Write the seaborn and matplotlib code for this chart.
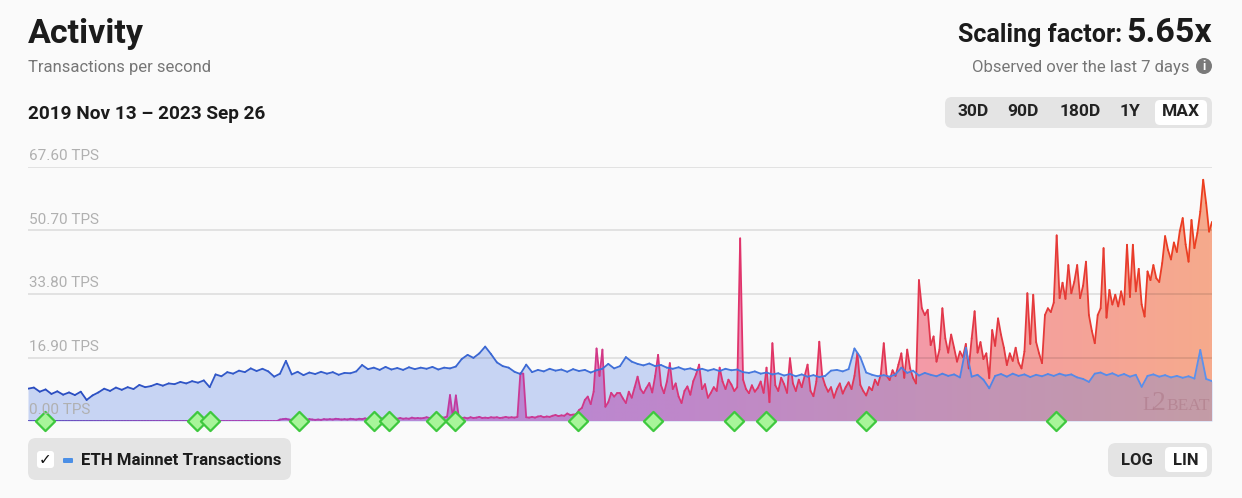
import matplotlib
matplotlib.use("Agg")
import matplotlib.pyplot as plt
import matplotlib.dates as mdates
import matplotlib.transforms as mtransforms
from matplotlib.collections import LineCollection
from matplotlib.colors import LinearSegmentedColormap
from matplotlib.patches import FancyBboxPatch, Circle
import numpy as np
import pandas as pd
import seaborn as sns

# data
start_date = "2019-11-13"
end_date = "2023-09-26"

# ETH mainnet, one value about every 7 days
eth_tps = [
    8.6, 8.9, 7.8, 8.4, 7.2, 7.9, 7.0, 7.6, 6.9, 7.8,
    5.6, 6.8, 7.6, 8.6, 8.0, 8.9, 8.3, 9.0, 8.5, 9.6,
    9.0, 9.3, 9.9, 9.4, 10.0, 9.8, 10.4, 10.0, 10.6, 10.2,
    10.8, 9.0, 12.4, 11.9, 13.0, 12.6, 13.4, 13.0, 14.0, 13.3,
    13.9, 13.2, 11.8, 12.6, 16.0, 12.4, 13.1, 12.2, 12.9, 12.5,
    13.1, 12.6, 13.0, 12.3, 12.8, 12.7, 13.2, 14.9, 13.8, 14.2,
    13.6, 14.4, 13.7, 14.1, 13.6, 14.3, 13.8, 14.2, 13.9, 14.4,
    13.7, 14.2, 14.0, 14.5, 16.5, 17.6, 16.8, 18.0, 19.8, 17.8,
    15.6, 14.6, 14.2, 13.1, 12.5, 15.0, 13.0, 13.6, 13.2, 13.9,
    13.4, 13.7, 13.1, 13.8, 13.3, 13.6, 12.9, 13.5, 13.9, 15.2,
    14.0, 14.6, 17.0, 15.8, 15.2, 14.8, 15.3, 14.6, 14.9, 14.2,
    13.9, 14.3, 13.7, 14.0, 13.5, 13.9, 13.4, 13.8, 13.3, 13.9,
    13.5, 13.7, 13.0, 12.8, 13.2, 12.6, 12.9, 12.4, 12.7, 12.1,
    12.5, 11.9, 12.4, 11.8, 12.2, 11.7, 12.0, 13.4, 13.6, 13.2,
    13.8, 19.3, 17.0, 12.9, 12.3, 11.9, 12.2, 11.8, 12.4, 14.2,
    12.8, 13.4, 12.1, 12.8, 12.3, 11.9, 12.6, 12.0, 12.4, 11.6,
    19.5, 11.8, 12.3, 11.0, 8.7, 12.0, 12.5, 11.8, 12.6, 12.0,
    12.4, 11.7, 12.3, 11.9, 12.5, 12.0, 12.6, 12.1, 12.4, 11.6,
    11.2, 10.4, 12.6, 12.9, 12.2, 12.7, 12.0, 12.5, 11.8, 12.3,
    9.1, 12.0, 12.4, 11.8, 12.2, 11.6, 12.0, 11.5, 11.9, 11.3,
    18.9, 11.2, 10.6,
]

# rollups (L2s), one value about every 3.5 days
l2_tps = [
    0.0, 0.0, 0.0, 0.0, 0.0, 0.0, 0.0, 0.0, 0.0, 0.0,
    0.0, 0.0, 0.0, 0.0, 0.0, 0.0, 0.0, 0.0, 0.0, 0.0,
    0.0, 0.0, 0.0, 0.0, 0.0, 0.0, 0.0, 0.0, 0.0, 0.0,
    0.0, 0.0, 0.0, 0.0, 0.0, 0.0, 0.0, 0.0, 0.0, 0.0,
    0.0, 0.0, 0.0, 0.0, 0.0, 0.0, 0.0, 0.0, 0.0, 0.0,
    0.0, 0.0, 0.0, 0.0, 0.0, 0.0, 0.0, 0.0, 0.0, 0.0,
    0.0, 0.0, 0.0, 0.0, 0.0, 0.0, 0.0, 0.0, 0.0, 0.0,
    0.0, 0.0, 0.0, 0.0, 0.0, 0.0, 0.0, 0.0, 0.0, 0.0,
    0.0, 0.0, 0.0, 0.0, 0.0, 0.0, 0.4, 0.5, 0.6, 0.4,
    0.3, 0.4, 0.5, 0.3, 0.4, 0.3, 0.5, 0.4, 0.3, 0.4,
    0.3, 0.5, 0.4, 0.5, 0.4, 0.6, 0.5, 0.4, 0.5, 0.4,
    0.6, 0.5, 0.4, 0.6, 0.5, 0.7, 0.5, 0.6, 0.5, 0.6,
    0.8, 0.6, 0.5, 0.7, 0.6, 0.7, 0.6, 0.8, 0.6, 0.7,
    0.6, 0.9, 0.7, 0.8, 0.7, 0.8, 1.0, 0.8, 0.7, 0.9,
    0.8, 1.0, 0.9, 1.2, 6.9, 0.9, 6.8, 1.0, 0.8, 0.9,
    0.7, 1.0, 0.8, 0.9, 1.1, 0.8, 0.9, 0.8, 1.0, 0.9,
    1.0, 0.8, 0.9, 1.1, 0.9, 1.0, 0.9, 1.1, 12.7, 12.6,
    1.0, 0.9, 1.1, 0.9, 1.2, 1.3, 1.0, 1.2, 1.1, 1.4,
    1.6, 1.3, 1.5, 1.4, 2.0, 1.6, 1.7, 1.8, 2.9, 3.5,
    5.6, 6.5, 4.5, 7.8, 19.3, 12.0, 19.0, 3.8, 5.0, 7.5,
    6.5, 7.4, 7.4, 6.0, 4.8, 7.8, 6.2, 9.0, 11.8, 8.5,
    7.4, 8.8, 10.1, 7.6, 12.0, 17.6, 9.5, 7.4, 10.5, 15.4,
    8.5, 10.0, 6.5, 4.8, 8.0, 9.2, 7.0, 10.6, 12.5, 15.0,
    8.5, 9.8, 6.2, 7.5, 9.0, 8.0, 14.2, 10.5, 8.5, 11.0,
    9.7, 8.0, 9.0, 48.6, 11.0, 8.5, 7.4, 9.5, 7.8, 8.8,
    10.5, 7.5, 14.2, 5.0, 20.7, 9.5, 8.0, 11.5, 9.8, 7.5,
    16.7, 10.0, 8.0, 11.0, 9.0, 12.0, 15.0, 8.0, 6.6, 10.5,
    21.1, 12.0, 9.5, 7.8, 9.0, 6.2, 8.5, 10.0, 7.3, 9.0,
    10.3, 8.5, 12.0, 18.0, 9.6, 8.0, 6.8, 9.0, 8.2, 11.0,
    9.6, 12.5, 20.7, 12.0, 10.9, 13.5, 12.0, 15.0, 18.0, 11.5,
    19.0, 14.0, 11.5, 10.0, 37.5, 30.0, 28.2, 29.6, 20.2, 22.5,
    15.8, 19.0, 30.0, 22.0, 18.2, 23.0, 19.5, 15.8, 18.5, 17.0,
    20.5, 14.0, 22.0, 29.2, 18.2, 21.0, 16.5, 18.0, 11.4, 24.2,
    20.0, 27.3, 23.0, 19.5, 14.9, 18.0, 16.0, 19.5, 15.5, 14.0,
    18.5, 34.0, 20.5, 33.6, 21.0, 18.0, 15.4, 28.2, 30.0, 29.0,
    31.5, 49.4, 32.7, 36.8, 32.5, 41.5, 34.0, 37.0, 41.5, 32.7,
    36.0, 42.4, 28.2, 24.0, 20.7, 28.2, 30.0, 46.0, 27.5, 34.9,
    31.0, 33.6, 30.5, 34.5, 31.0, 46.9, 33.0, 46.9, 34.5, 40.5,
    31.0, 27.8, 39.8, 37.5, 41.5, 38.0, 37.0, 42.0, 49.2, 45.5,
    43.0, 47.5, 45.0, 50.5, 54.0, 47.0, 42.4, 53.5, 46.0, 50.0,
    55.7, 64.2, 58.0, 50.4, 53.0,
]

milestones = [
    "2019-12-03", "2020-06-02", "2020-06-17", "2020-10-01", "2020-12-30",
    "2021-01-17", "2021-03-14", "2021-04-06", "2021-08-30", "2021-11-28",
    "2022-03-04", "2022-04-12", "2022-08-09", "2023-03-24",
]

y_ticks = [0, 16.9, 33.8, 50.7, 67.6]
y_tick_labels = ["0.00 TPS", "16.90 TPS", "33.80 TPS", "50.70 TPS", "67.60 TPS"]
ranges = ["30D", "90D", "180D", "1Y", "MAX"]
range_x = [973, 1023, 1080, 1130, 1181]

sns.set_theme(style="white")
plt.rcParams['font.family'] = ['Roboto', 'DejaVu Sans']

W, H = 1242, 498
BG = '#fafafa'
fig = plt.figure(figsize=(W / 100, H / 100), dpi=100, facecolor=BG)
ax = fig.add_axes([28 / W, (H - 421) / H, (1212 - 28) / W, (421 - 167) / H])
ax.set_facecolor(BG)

x_eth = mdates.date2num(pd.date_range(start_date, end_date, periods=len(eth_tps)))
x_l2 = mdates.date2num(pd.date_range(start_date, end_date, periods=len(l2_tps)))
eth = np.array(eth_tps)
l2 = np.array(l2_tps)

# gradient fill under the L2 series
fill_cmap = LinearSegmentedColormap.from_list(
    "l2fill", [(0, '#d8a0e0'), (0.35, '#e48cd0'), (0.55, '#ef8cc0'),
               (0.75, '#f39aa8'), (1, '#f6aa8c')])
poly = ax.fill_between(x_l2, l2, color='none', lw=0)
grad = fill_cmap(np.linspace(0, 1, 512))[None, :, :]
im = ax.imshow(grad, extent=[x_l2[0], x_l2[-1], 0, 67.6], aspect='auto',
               origin='lower', zorder=1, interpolation='bilinear')
im.set_clip_path(poly.get_paths()[0], transform=ax.transData)

# ETH fill on top, translucent
ax.fill_between(x_eth, eth, color='#517de4', alpha=0.3, lw=0, zorder=2)

for v in y_ticks[1:]:
    ax.axhline(v, color='black', alpha=0.12, lw=1.1, zorder=2.5)


def grad_line(x, y, cmap, lw, z):
    pts = np.column_stack([x, y])
    segs = np.stack([pts[:-1], pts[1:]], axis=1)
    lc = LineCollection(segs, cmap=cmap, norm=plt.Normalize(x[0], x[-1]),
                        linewidths=lw, zorder=z, capstyle='round')
    lc.set_array((x[:-1] + x[1:]) / 2)
    ax.add_collection(lc)


l2_cmap = LinearSegmentedColormap.from_list(
    "l2line", [(0, '#5a4ec0'), (0.2, '#b03cb0'), (0.4, '#c83a9a'),
               (0.6, '#e0346c'), (0.8, '#e23846'), (1, '#ec3e1e')])
eth_cmap = LinearSegmentedColormap.from_list(
    "ethline", [(0, '#2a4cc0'), (0.5, '#3f6fd8'), (1, '#5b92ee')])
grad_line(x_l2, l2, l2_cmap, 1.3, 3)
grad_line(x_eth, eth, eth_cmap, 1.3, 4)

# milestone diamonds
ms = pd.DataFrame({'date': mdates.date2num(pd.to_datetime(milestones)),
                   'y': 0.0})
sns.scatterplot(data=ms, x='date', y='y', marker='D', s=95, color='#a8f59a',
                edgecolor='#3ec83e', linewidth=1.6, ax=ax, zorder=6,
                clip_on=False, legend=False)

ax.set_xlim(x_eth[0], x_eth[-1])
ax.set_ylim(0, 67.6)
ax.set_axis_off()

trans = mtransforms.blended_transform_factory(ax.transAxes, ax.transData)
for v, lab in zip(y_ticks, y_tick_labels):
    ax.annotate(lab, xy=(0, v), xycoords=trans, xytext=(0.5, 5),
                textcoords='offset points', fontsize=11, color='#b0b0b0',
                va='baseline', ha='left', zorder=7, annotation_clip=False)


def px(x, y):
    return x / W, 1 - y / H


# watermark
for txt, x, fs in [("L", 1142, 14), ("2", 1152, 20), ("BEAT", 1166, 12.5)]:
    fig.text(*px(x, 410), txt, fontsize=fs, color='#9a5a6a', alpha=0.3,
             family='Liberation Serif', va='baseline', ha='left')


def rbox(x0, y0, x1, y1, color, r=7):
    p = FancyBboxPatch((x0 / 100, (H - y1) / 100), (x1 - x0) / 100,
                       (y1 - y0) / 100,
                       boxstyle=f"round,pad=0,rounding_size={r / 100}",
                       transform=fig.dpi_scale_trans, fc=color, ec='none')
    fig.add_artist(p)


# header
fig.text(*px(28, 43), "Activity", fontsize=24.5, weight='bold', color='#1b1b1b',
         va='baseline')
fig.text(*px(28, 72), "Transactions per second", fontsize=12,
         color='#767676', va='baseline')
fig.text(*px(28, 119), "2019 Nov 13 \u2013 2023 Sep 26", fontsize=13.7,
         weight='bold', color='#1b1b1b', va='baseline')
fig.text(*px(1212, 42), "5.65x", fontsize=24.5, weight='bold', color='#1b1b1b',
         va='baseline', ha='right')
fig.text(*px(1122, 42), "Scaling factor:", fontsize=18, weight='bold',
         color='#1b1b1b', va='baseline', ha='right')
fig.text(*px(1189, 72), "Observed over the last 7 days", fontsize=12,
         color='#767676', va='baseline', ha='right')
fig.add_artist(Circle((1204 / 100, (H - 66) / 100), 8 / 100,
                      transform=fig.dpi_scale_trans, fc='#7a7a7a', ec='none'))
fig.text(*px(1204, 66), "i", fontsize=9, weight='bold', color='white',
         ha='center', va='center')

# range buttons
rbox(945, 97, 1212, 128, '#e4e4e4')
rbox(1155, 100, 1207, 125, '#ffffff', r=5)
for lab, x in zip(ranges, range_x):
    fig.text(*px(x, 112), lab, fontsize=12.5, weight='bold', color='#222222',
             ha='center', va='center')

# legend
rbox(28, 438, 291, 480, '#e4e4e4', r=8)
rbox(37, 451, 54, 468, '#ffffff', r=3)
fig.text(*px(45.5, 460), "\u2713", fontsize=11, color='#111111',
         family='DejaVu Sans', weight='bold', ha='center', va='center')
rbox(63, 458, 73, 463, '#4b8fe6', r=1)
fig.text(*px(81, 460), "ETH Mainnet Transactions", fontsize=12.1,
         weight='bold', color='#1b1b1b', ha='left', va='center')

# scale toggle
rbox(1108, 443, 1212, 477, '#e4e4e4', r=8)
rbox(1165, 447, 1207, 472, '#ffffff', r=5)
fig.text(*px(1137, 460), "LOG", fontsize=12, weight='bold', color='#222222',
         ha='center', va='center')
fig.text(*px(1186, 460), "LIN", fontsize=12, weight='bold', color='#222222',
         ha='center', va='center')

fig.savefig("out.png", dpi=100, facecolor=BG)
